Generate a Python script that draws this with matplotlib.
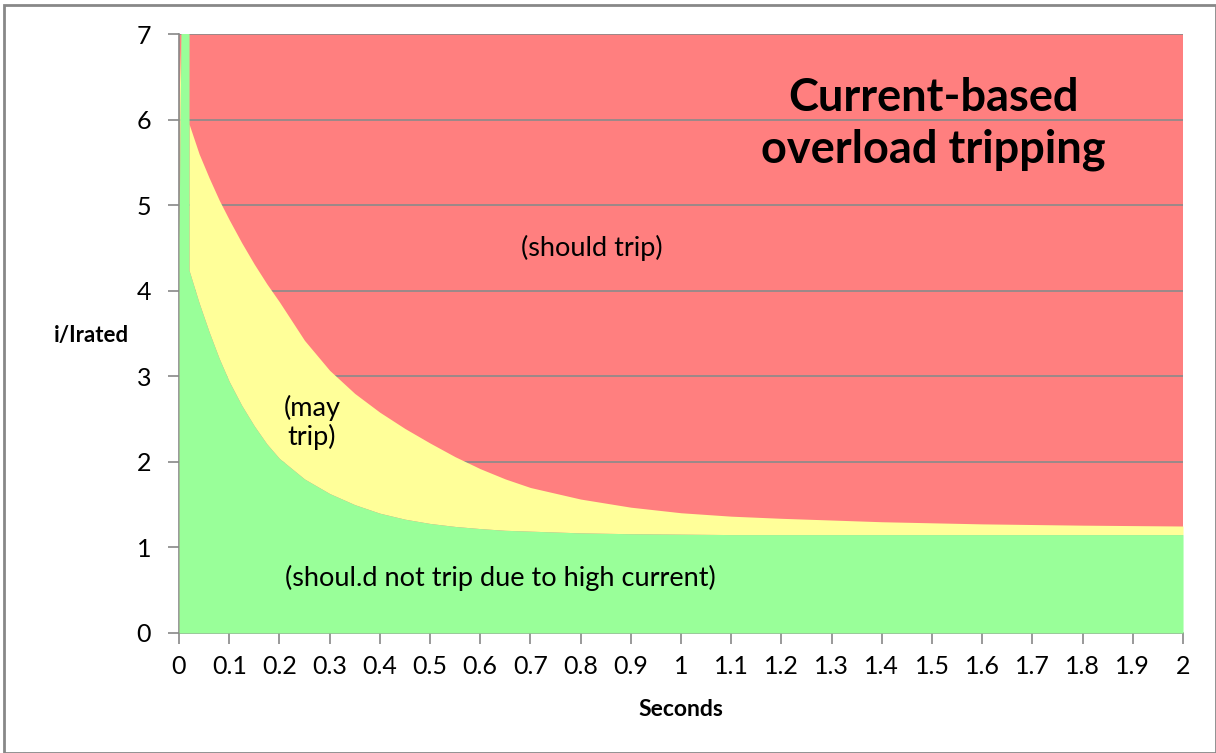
import matplotlib.pyplot as plt
from matplotlib.patches import Rectangle
import numpy as np

plt.rcParams['font.family'] = ['Lato', 'DejaVu Sans']

# seconds, lower boundary (green) and upper boundary (green+yellow)
seconds = [0.0, 0.004, 0.02, 0.02, 0.04, 0.06, 0.08, 0.1, 0.125, 0.15, 0.175, 0.2,
           0.25, 0.3, 0.35, 0.4, 0.45, 0.5, 0.55, 0.6, 0.65, 0.7, 0.8, 0.9, 1.0, 1.1,
           1.2, 1.4, 1.6, 1.8, 2.0]
no_trip = [4.6, 7.05, 7.05, 4.24, 3.86, 3.52, 3.21, 2.94, 2.66, 2.42, 2.21, 2.04,
           1.80, 1.63, 1.50, 1.40, 1.33, 1.28, 1.245, 1.22, 1.2, 1.19, 1.17, 1.16, 1.155,
           1.15, 1.15, 1.15, 1.15, 1.15, 1.15]
may_trip = [6.2, 7.05, 7.05, 5.95, 5.6, 5.32, 5.06, 4.83, 4.56, 4.31, 4.08, 3.87,
            3.42, 3.07, 2.80, 2.58, 2.39, 2.22, 2.06, 1.92, 1.80, 1.70, 1.565, 1.47, 1.405,
            1.365, 1.34, 1.30, 1.275, 1.26, 1.25]
y_max = 7

fig = plt.figure(figsize=(12.16, 7.53), dpi=100)
ax = fig.add_axes([0.1472, 0.1594, 0.8257, 0.7954])

x = np.array(seconds)
lo = np.array(no_trip)
hi = np.array(may_trip)

ax.fill_between(x, 0, y_max, color='#ff7f7f', lw=0, zorder=1)
for y in range(1, 8):
    ax.axhline(y, color='#8a8a8a', lw=1.2, zorder=1.5)
ax.fill_between(x, lo, hi, color='#ffff99', lw=0, zorder=2)
ax.fill_between(x, 0, lo, color='#99ff99', lw=0, zorder=3)

ax.set_xlim(0, 2)
ax.set_ylim(0, 7)
ax.set_xticks(np.arange(0, 2.01, 0.1))
ax.set_xticklabels(['0'] + ['%g' % round(v, 1) for v in np.arange(0.1, 2.01, 0.1)])
ax.set_yticks(range(0, 8))
ax.tick_params(axis='both', labelsize=18, color='#888888', length=8, width=1.2,
               direction='out')
ax.tick_params(axis='x', pad=8)
ax.tick_params(axis='y', pad=12)
for s in ['top', 'right']:
    ax.spines[s].set_visible(False)
for s in ['left', 'bottom']:
    ax.spines[s].set_color('#888888')
    ax.spines[s].set_linewidth(1.2)

fig.text(681 / 1216, 1 - 710 / 753, 'Seconds', fontsize=16.5, fontweight='bold',
         ha='center', va='center')
fig.text(91 / 1216, 1 - 335 / 753, 'i/Irated', fontsize=16, fontweight='bold',
         ha='center', va='center')

ax.text(0.751, 0.85, 'Current-based\noverload tripping', transform=ax.transAxes,
        fontsize=32.5, fontweight='bold', ha='center', va='center', linespacing=1.3, zorder=5)
ax.text(0.823, 4.5, '(should trip)', fontsize=19.5, ha='center', va='center', zorder=5)
ax.text(0.265, 2.46, '(may\ntrip)', fontsize=19.5, ha='center', va='center',
        linespacing=1.1, zorder=5)
ax.text(0.64, 0.64, '(shoul.d not trip due to high current)', fontsize=19.5,
        ha='center', va='center', zorder=5)

fig.patches.append(Rectangle((0.003, 0.0), 0.997, 0.994, transform=fig.transFigure,
                             fill=False, edgecolor='#888888', lw=2))

fig.savefig('out.png', dpi=100)
